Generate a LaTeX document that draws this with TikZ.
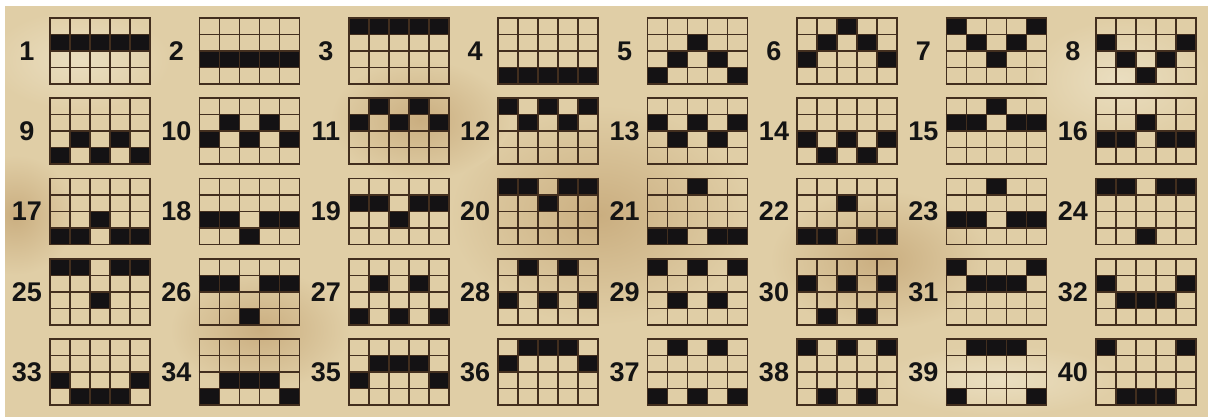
\documentclass[tikz,border=0pt]{standalone}
\usepackage{fontspec}
\setmainfont{Liberation Sans}
\definecolor{parch}{RGB}{224,206,166}
\definecolor{parchdark}{RGB}{202,174,128}
\definecolor{parchlight}{RGB}{234,222,192}
\definecolor{gridbrown}{RGB}{66,46,30}
\definecolor{cellblack}{RGB}{20,18,20}
\tikzset{
  gridline/.style={draw=gridbrown, line width=1.5pt},
  cellfill/.style={fill=cellblack},
  lbl/.style={font=\bfseries\fontsize{27}{27}\selectfont, text=black!92, inner sep=0pt}
}
\begin{document}
\begin{tikzpicture}[x=1pt,y=-1pt]
\useasboundingbox (0,0) rectangle (1208,417);
\fill[white] (0,0) rectangle (1208,417);
\fill[parch] (5,6) rectangle (1208,417);
\begin{scope}
\clip (5,6) rectangle (1208,417);
\shade[inner color=parchdark, outer color=parch] (600,215) ellipse [x radius=150pt, y radius=110pt];
\shade[inner color=parchdark, outer color=parch] (15,215) ellipse [x radius=60pt, y radius=60pt];
\shade[inner color=parchdark, outer color=parch] (420,120) ellipse [x radius=90pt, y radius=60pt];
\shade[inner color=parchdark, outer color=parch] (880,260) ellipse [x radius=110pt, y radius=70pt];
\shade[inner color=parchdark, outer color=parch] (260,330) ellipse [x radius=90pt, y radius=60pt];
\shade[inner color=parchlight, outer color=parch] (1120,80) ellipse [x radius=90pt, y radius=60pt];
\shade[inner color=parchlight, outer color=parch] (80,60) ellipse [x radius=90pt, y radius=50pt];
\shade[inner color=parchlight, outer color=parch] (1000,380) ellipse [x radius=120pt, y radius=35pt];
\end{scope}
\foreach \n/\a/\b/\c/\d/\e [count=\i from 0] in {
 1/1/1/1/1/1, 2/2/2/2/2/2, 3/0/0/0/0/0, 4/3/3/3/3/3,
 5/3/2/1/2/3, 6/2/1/0/1/2, 7/0/1/2/1/0, 8/1/2/3/2/1,
 9/3/2/3/2/3, 10/2/1/2/1/2, 11/1/0/1/0/1, 12/0/1/0/1/0,
 13/1/2/1/2/1, 14/2/3/2/3/2, 15/1/1/0/1/1, 16/2/2/1/2/2,
 17/3/3/2/3/3, 18/2/2/3/2/2, 19/1/1/2/1/1, 20/0/0/1/0/0,
 21/3/3/0/3/3, 22/3/3/1/3/3, 23/2/2/0/2/2, 24/0/0/3/0/0,
 25/0/0/2/0/0, 26/1/1/3/1/1, 27/3/1/3/1/3, 28/2/0/2/0/2,
 29/0/2/0/2/0, 30/1/3/1/3/1, 31/0/1/1/1/0, 32/1/2/2/2/1,
 33/2/3/3/3/2, 34/3/2/2/2/3, 35/2/1/1/1/2, 36/1/0/0/0/1,
 37/3/0/3/0/3, 38/0/3/0/3/0, 39/3/0/0/0/3, 40/0/3/3/3/0} {
  \pgfmathtruncatemacro\col{mod(\i,8)}
  \pgfmathtruncatemacro\row{div(\i,8)}
  \pgfmathsetmacro\gx{50+149.4*\col}
  \pgfmathsetmacro\gy{18+80.25*\row}
  \begin{scope}[shift={(\gx,\gy)}]
    \foreach \k/\r in {0/\a,1/\b,2/\c,3/\d,4/\e}
      \fill[cellfill] (\k*20,\r*16.5) rectangle ++(20,16.5);
    \foreach \k in {0,...,5} \draw[gridline] (\k*20,-0.75) -- (\k*20,66.75);
    \foreach \k in {0,...,4} \draw[gridline] (-0.75,\k*16.5) -- (100.75,\k*16.5);
    \node[lbl] (n\n) at (-23,33) {\n};
  \end{scope}
}
\end{tikzpicture}
\end{document}
